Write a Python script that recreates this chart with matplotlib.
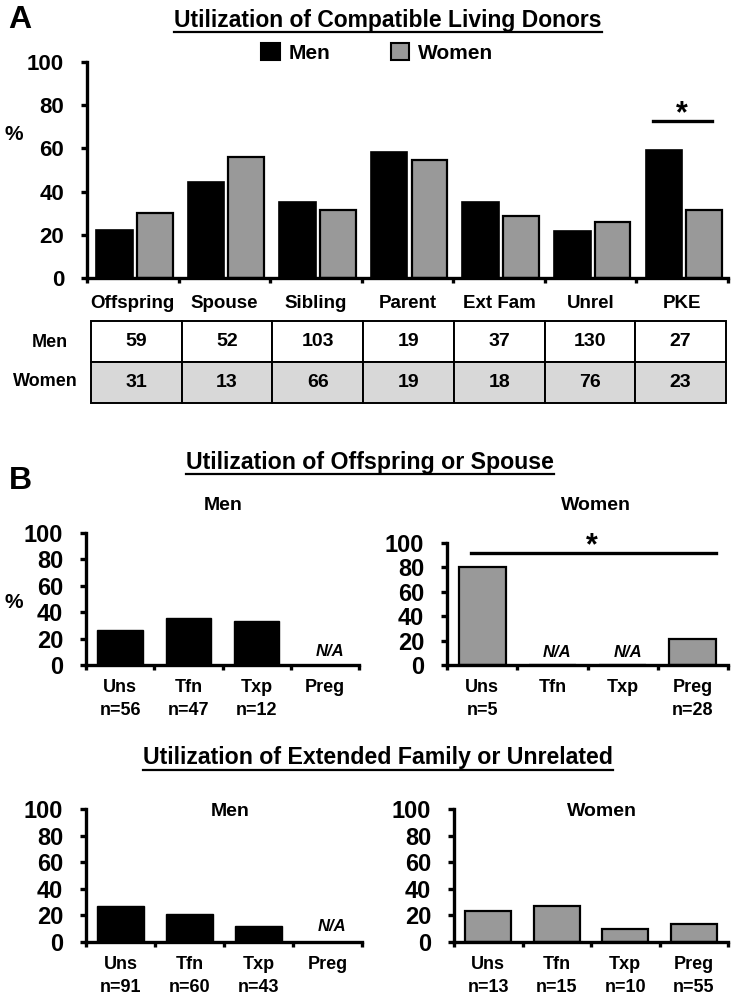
import matplotlib
matplotlib.use("Agg")
import matplotlib.pyplot as plt
from matplotlib.patches import Patch
from matplotlib.lines import Line2D

plt.rcParams['font.family'] = ['Liberation Sans', 'DejaVu Sans']
plt.rcParams['font.weight'] = 'bold'

# ---------------- data ----------------
categories_a = ["Offspring", "Spouse", "Sibling", "Parent", "Ext Fam", "Unrel", "PKE"]
men_pct_a = [22.1, 44.4, 35.2, 58.2, 35.2, 21.6, 59.4]
women_pct_a = [30.2, 56.0, 31.3, 54.8, 28.5, 25.9, 31.6]
men_n_a = [59, 52, 103, 19, 37, 130, 27]
women_n_a = [31, 13, 66, 19, 18, 76, 23]

sub_cats = ["Uns", "Tfn", "Txp", "Preg"]
# Offspring or Spouse
men_os = [26.5, 35.8, 33.3, None]
men_os_n = ["n=56", "n=47", "n=12", ""]
women_os = [80.0, None, None, 21.0]
women_os_n = ["n=5", "", "", "n=28"]
# Extended family or unrelated
men_eu = [27.3, 20.8, 12.3, None]
men_eu_n = ["n=91", "n=60", "n=43", ""]
women_eu = [23.3, 27.3, 9.8, 13.5]
women_eu_n = ["n=13", "n=15", "n=10", "n=55"]

yticks = [0, 20, 40, 60, 80, 100]

MEN_C = "#000000"
WOMEN_C = "#999999"
TABLE_GRAY = "#d8d8d8"

W, H = 733, 996
fig = plt.figure(figsize=(W / 100, H / 100), dpi=100)


def rect(l, t, r, b):
    return [l / W, 1 - b / H, (r - l) / W, (b - t) / H]


def ftext(x, y, s, size, **kw):
    return fig.text(x / W, 1 - y / H, s, fontsize=size, fontweight="bold", **kw)


def style_axes(ax, tick_fs, xpad):
    for s in ["top", "right"]:
        ax.spines[s].set_visible(False)
    for s in ["left", "bottom"]:
        ax.spines[s].set_linewidth(2.4)
    ax.set_ylim(0, 100)
    ax.set_yticks(yticks)
    ax.tick_params(axis="y", length=4.5, width=2.4, pad=12, labelsize=tick_fs)
    ax.tick_params(axis="x", which="major", length=0, pad=xpad)
    ax.tick_params(axis="x", which="minor", length=3.5, width=2.4)
    for lab in ax.get_yticklabels():
        lab.set_fontweight("bold")


# ---------------- Panel A ----------------
axA = fig.add_axes(rect(87, 62, 728, 278))
style_axes(axA, 16, 12)
xa = list(range(len(categories_a)))
axA.bar([i + 0.5 - 0.2 for i in xa], men_pct_a, width=0.40, color=MEN_C,
        edgecolor="black", linewidth=1.2)
axA.bar([i + 0.5 + 0.24 for i in xa], women_pct_a, width=0.39, color=WOMEN_C,
        edgecolor="black", linewidth=1.6)
axA.set_xlim(0, len(categories_a))
axA.set_xticks([i + 0.5 for i in xa])
axA.set_xticklabels(categories_a, fontsize=13.5, fontweight="bold")
axA.set_xticks(range(len(categories_a) + 1), minor=True)
# significance bar PKE
axA.plot([6.18, 6.83], [72.7, 72.7], color="black", lw=2.4, clip_on=False)
axA.text(6.5, 69, "*", ha="center", va="bottom", fontsize=22, fontweight="bold")

ftext(20, 20, "A", 23, ha="center", va="center")
ftext(14, 135, "%", 15, ha="center", va="center")
tA = ftext(388, 20, "Utilization of Compatible Living Donors", 16.5,
           ha="center", va="center")

fig.legend(handles=[Patch(facecolor=MEN_C, edgecolor="black", linewidth=1.5),
                    Patch(facecolor=WOMEN_C, edgecolor="black", linewidth=1.5)],
           labels=["Men", "Women"], ncol=2, loc="center",
           bbox_to_anchor=(377 / W, 1 - 53 / H), frameon=False,
           prop={"size": 15, "weight": "bold"}, handlelength=0.9,
           handleheight=0.85, handletextpad=0.4, columnspacing=2.9)

# table
axT = fig.add_axes(rect(91, 321, 726, 403))
axT.axis("off")
tbl = axT.table(cellText=[[str(v) for v in men_n_a], [str(v) for v in women_n_a]],
                cellLoc="center", bbox=[0, 0, 1, 1])
tbl.auto_set_font_size(False)
for (r, c), cell in tbl.get_celld().items():
    cell.set_linewidth(1.4)
    cell.set_facecolor("white" if r == 0 else TABLE_GRAY)
    cell.set_text_props(fontsize=14, fontweight="bold")
ftext(50, 342, "Men", 13, ha="center", va="center")
ftext(45, 381, "Women", 13, ha="center", va="center")


# ---------------- sub panels ----------------
def sub_panel(box, vals, ns, color, na_y):
    ax = fig.add_axes(rect(*box))
    style_axes(ax, 17, 10)
    xs = list(range(len(sub_cats)))
    hv = [v if v is not None else 0 for v in vals]
    ax.bar(xs, hv, width=0.67, color=color, edgecolor="black",
           linewidth=1.6 if color != MEN_C else 1.0)
    ax.set_xlim(-0.5, len(sub_cats) - 0.5)
    labels = [c + ("\n" + n if n else "") for c, n in zip(sub_cats, ns)]
    ax.set_xticks(xs)
    ax.set_xticklabels(labels, fontsize=13, fontweight="bold", linespacing=1.45)
    ax.set_xticks([x - 0.5 for x in range(len(sub_cats) + 1)], minor=True)
    for x, v in zip(xs, vals):
        if v is None:
            ax.text(x + 0.07, na_y, "N/A", ha="center", va="center", fontsize=12,
                    fontweight="bold", style="italic")
    return ax


tB = ftext(370, 462, "Utilization of Offspring or Spouse", 16.7, ha="center", va="center")
ftext(20, 481, "B", 23, ha="center", va="center")
ftext(14, 603, "%", 15, ha="center", va="center")
ftext(223, 505, "Men", 14, ha="center", va="center")
ftext(596, 505, "Women", 14, ha="center", va="center")

sub_panel((86, 533, 359, 665), men_os, men_os_n, MEN_C, 10)
axBW = sub_panel((447, 543, 728, 665), women_os, women_os_n, WOMEN_C, 10)
axBW.plot([-0.16, 3.33], [91.8, 91.8], color="black", lw=2.4, clip_on=False)
axBW.text(1.56, 85, "*", ha="center", va="bottom", fontsize=22, fontweight="bold")

tC = ftext(378, 757, "Utilization of Extended Family or Unrelated", 16.7,
           ha="center", va="center")
sub_panel((86, 809, 362, 942), men_eu, men_eu_n, MEN_C, 12)
sub_panel((454, 809, 728, 942), women_eu, women_eu_n, WOMEN_C, 12)
ftext(230, 811, "Men", 14, ha="center", va="center")
ftext(602, 811, "Women", 14, ha="center", va="center")

# underline titles
fig.canvas.draw()
rend = fig.canvas.get_renderer()
for t in (tA, tB, tC):
    bb = t.get_window_extent(renderer=rend)
    y = bb.y0 - 1
    fig.add_artist(Line2D([bb.x0 / W, bb.x1 / W], [y / H, y / H], color="black",
                          lw=1.6, transform=fig.transFigure))

fig.savefig("out.png", dpi=100)
